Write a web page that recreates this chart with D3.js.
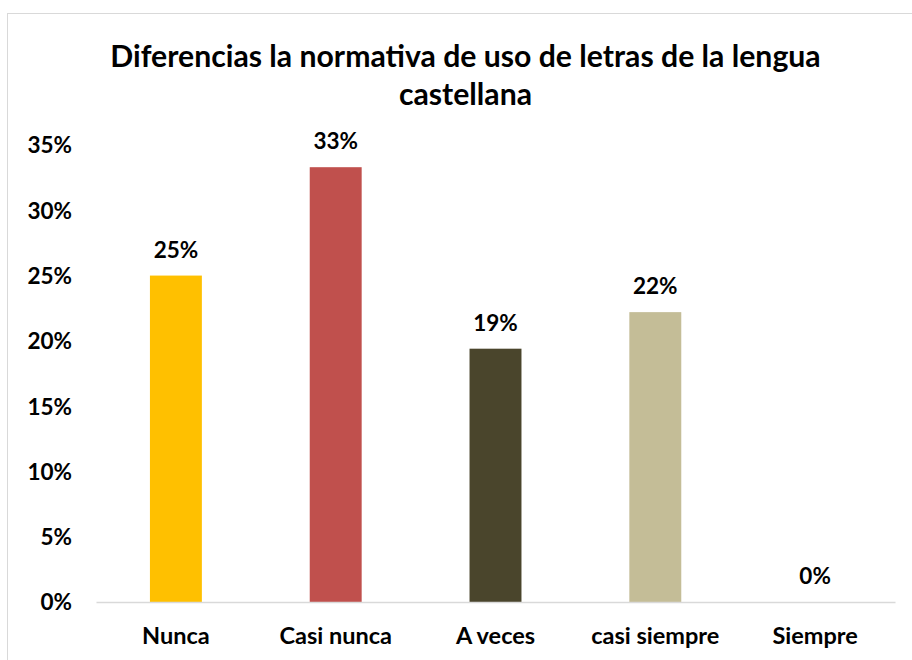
<!DOCTYPE html>
<html><head><meta charset="utf-8">
<script src="https://cdn.jsdelivr.net/npm/d3@7"></script>
<style>body{margin:0;background:#fff;} svg{display:block;} text{font-family:Lato,"Open Sans",sans-serif;font-weight:bold;fill:#000;}</style>
</head><body><svg id="c" width="912" height="660"></svg>
<script>
const categories = ["Nunca", "Casi nunca", "A veces", "casi siempre", "Siempre"];
const values = [0.25, 0.333, 0.194, 0.222, 0.0];
const valueLabels = ["25%", "33%", "19%", "22%", "0%"];
const colors = ["#FFC000", "#C0504D", "#4A452C", "#C4BD97", "#FFFFFF"];
const yTicks = [0, 0.05, 0.10, 0.15, 0.20, 0.25, 0.30, 0.35];
const titleLines = ["Diferencias la normativa de uso de letras de la lengua", "castellana"];

const svg = d3.select("#c");
svg.append("rect").attr("x", 7.5).attr("y", 13.5).attr("width", 930).attr("height", 700)
  .attr("fill", "#fff").attr("stroke", "#d9d9d9").attr("stroke-width", 1);

const x = d3.scaleBand().domain(categories).range([96, 895]).paddingInner(0.675).paddingOuter(0.3375);
const y = d3.scaleLinear().domain([0, 0.35]).range([602, 145]);

svg.selectAll("text.title").data(titleLines).join("text")
  .attr("class", "title").attr("x", 465.5).attr("y", (d, i) => 67 + i * 38)
  .attr("text-anchor", "middle").style("font-size", "30.2px").text(d => d);

const yAxis = d3.axisLeft(y).tickValues(yTicks).tickFormat(d3.format(".0%")).tickSize(0).tickPadding(0);
const gy = svg.append("g").attr("transform", "translate(72,0)").call(yAxis);
gy.select(".domain").remove();
gy.selectAll("text").style("font-size", "22.5px").style("font-family", "Lato").attr("dy", "0.35em");

svg.selectAll("rect.bar").data(categories).join("rect").attr("class", "bar")
  .attr("x", d => x(d)).attr("width", x.bandwidth())
  .attr("y", (d, i) => y(values[i])).attr("height", (d, i) => y(0) - y(values[i]))
  .attr("fill", (d, i) => colors[i]);

const xAxis = d3.axisBottom(x).tickSize(0).tickPadding(0);
const gx = svg.append("g").attr("transform", "translate(0,602)").call(xAxis);
gx.select(".domain").attr("stroke", "#d9d9d9").attr("stroke-width", 1.5);
gx.selectAll("text").style("font-size", "23.5px").style("font-family", "Lato").attr("dy", "0").attr("y", 42);

svg.selectAll("text.lbl").data(categories).join("text").attr("class", "lbl")
  .attr("x", d => x(d) + x.bandwidth() / 2).attr("y", (d, i) => y(values[i]) - 18)
  .attr("text-anchor", "middle").style("font-size", "22.5px").text((d, i) => valueLabels[i]);
</script></body></html>
